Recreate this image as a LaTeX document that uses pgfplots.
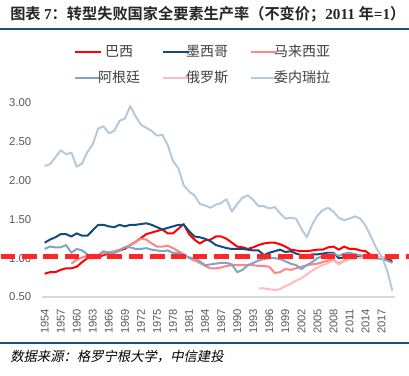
\documentclass[border=0pt]{standalone}
\usepackage{fontspec}
\setmainfont{Liberation Sans}
\newfontfamily\cjk{Noto Sans CJK SC}[BoldFont={Noto Sans CJK SC Bold}]
\newfontfamily\cjki{Noto Sans CJK SC}[FakeSlant=0.2]
\newfontfamily\tnr{Liberation Serif}
\usepackage{pgfplots}
\usepackage{pgfplotstable}
\pgfplotsset{compat=1.18}
\definecolor{cbr}{HTML}{FF0000}
\definecolor{cmx}{HTML}{124C7C}
\definecolor{cmy}{HTML}{FF8585}
\definecolor{car}{HTML}{82A3C2}
\definecolor{cru}{HTML}{FFBCBC}
\definecolor{cve}{HTML}{B3CADD}
\definecolor{rule}{HTML}{1F4E79}
\definecolor{tick}{HTML}{595959}
\pgfplotstableread{
year br mx my ar ru ve
1954 0.80 1.20 nan 1.12 nan 2.19
1955 0.82 1.24 nan 1.15 nan 2.21
1956 0.82 1.27 nan 1.14 nan 2.30
1957 0.85 1.31 nan 1.14 nan 2.39
1958 0.87 1.31 nan 1.17 nan 2.34
1959 0.87 1.28 0.93 1.07 nan 2.36
1960 0.89 1.32 0.98 1.12 nan 2.18
1961 0.95 1.29 1.01 1.10 nan 2.22
1962 1.00 1.29 1.03 1.05 nan 2.37
1963 1.00 1.36 1.03 1.01 nan 2.47
1964 1.01 1.43 1.04 1.04 nan 2.67
1965 1.04 1.43 1.06 1.09 nan 2.70
1966 1.06 1.41 1.08 1.07 nan 2.61
1967 1.07 1.40 1.09 1.07 nan 2.64
1968 1.10 1.43 1.11 1.10 nan 2.77
1969 1.12 1.41 1.14 1.14 nan 2.80
1970 1.17 1.43 1.17 1.14 nan 2.96
1971 1.21 1.43 1.21 1.12 nan 2.83
1972 1.26 1.44 1.25 1.12 nan 2.72
1973 1.31 1.45 1.24 1.13 nan 2.68
1974 1.33 1.43 1.19 1.11 nan 2.64
1975 1.35 1.40 1.15 1.10 nan 2.58
1976 1.37 1.37 1.15 1.09 nan 2.59
1977 1.32 1.39 1.16 1.10 nan 2.46
1978 1.32 1.41 1.13 1.07 nan 2.25
1979 1.38 1.43 1.09 1.07 nan 2.16
1980 1.44 1.43 1.05 1.04 nan 1.94
1981 1.31 1.35 1.00 1.01 nan 1.86
1982 1.24 1.28 0.97 1.00 nan 1.81
1983 1.19 1.27 0.94 0.96 nan 1.70
1984 1.23 1.25 0.90 0.91 nan 1.68
1985 1.24 1.22 0.87 0.92 nan 1.65
1986 1.28 1.17 0.87 0.93 nan 1.69
1987 1.28 1.15 0.88 0.94 nan 1.71
1988 1.25 1.13 0.90 0.94 nan 1.76
1989 1.20 1.12 0.91 0.92 nan 1.60
1990 1.15 1.12 0.91 0.82 nan 1.70
1991 1.14 1.12 0.91 0.85 nan 1.78
1992 1.12 1.11 0.91 0.91 nan 1.81
1993 1.14 1.10 0.91 0.94 nan 1.75
1994 1.17 1.10 0.90 0.97 0.61 1.67
1995 1.19 1.04 0.90 0.99 0.61 1.67
1996 1.20 1.07 0.89 1.00 0.60 1.64
1997 1.20 1.09 0.81 1.00 0.59 1.66
1998 1.18 1.11 0.82 0.99 0.60 1.58
1999 1.15 1.08 0.86 0.96 0.64 1.51
2000 1.11 1.09 0.85 0.93 0.67 1.52
2001 1.10 1.06 0.87 0.91 0.71 1.51
2002 1.09 1.04 0.89 0.86 0.74 1.38
2003 1.09 1.03 0.91 0.91 0.79 1.27
2004 1.10 1.05 0.92 0.95 0.84 1.43
2005 1.11 1.05 0.93 1.00 0.88 1.55
2006 1.11 1.06 0.95 1.03 0.91 1.62
2007 1.14 1.07 0.97 1.05 0.94 1.65
2008 1.15 1.07 0.98 1.06 0.97 1.60
2009 1.11 1.00 0.93 1.03 0.92 1.52
2010 1.15 1.01 0.97 1.06 0.96 1.49
2011 1.12 1.02 1.00 1.07 0.99 1.51
2012 1.12 1.02 1.00 1.05 1.00 1.54
2013 1.10 1.01 1.00 1.04 1.00 1.51
2014 1.09 1.01 1.01 1.02 1.01 1.42
2015 1.04 1.00 1.01 1.01 1.01 1.28
2016 1.01 1.00 1.01 1.00 1.01 1.13
2017 0.99 1.00 1.01 0.99 1.01 1.02
2018 0.98 0.98 1.01 0.97 1.01 0.85
2019 0.97 0.95 1.01 0.94 1.02 0.58
}\datatab
\pgfplotstableread{
x y
1945.8 1.025
2022.2 1.025
}\reftab
\begin{document}
\begin{tikzpicture}
\useasboundingbox (0,0) rectangle (306.75pt,281.25pt);
\node[anchor=west, inner sep=0pt, text=black!85] at (7.5pt,270.75pt)
  {\fontsize{11.4}{13}\selectfont\bfseries{\cjk 图表 }{\tnr 7}{\cjk ：转型失败国家全要素生产率（不变价；}{\tnr 2011 }{\cjk 年}{\tnr =1}{\cjk ）}};
\draw[rule, line width=2pt] (0,259.5pt) -- (306.75pt,259.5pt);
\draw[rule, line width=1.7pt] (0,24pt) -- (306.75pt,24pt);
\node[anchor=west, inner sep=0pt] at (7.5pt,13.5pt)
  {\fontsize{10}{12}\selectfont\cjki 数据来源：格罗宁根大学，中信建投};
\begin{axis}[
  at={(31.5pt,58.5pt)}, anchor=south west,
  scale only axis, width=264.75pt, height=145.5pt,
  xmin=1953.5, xmax=2019.5, ymin=0.5, ymax=3.0,
  clip=false,
  axis x line*=bottom, axis y line*=left,
  x axis line style={draw=black!15, line width=0.8pt},
  y axis line style={draw=none},
  xtick={1954,1957,...,2017},
  ytick={0.5,1.0,...,3.0},
  major tick length=0pt,
  tick style={draw=none},
  /pgf/number format/assume math mode=true,
  xticklabel style={font=\fontsize{8.4}{10}\selectfont, text=tick, /pgf/number format/1000 sep={}, yshift=-5.5pt, rotate=90, anchor=east},
  yticklabel style={font=\fontsize{8.5}{10}\selectfont, text=tick, /pgf/number format/.cd, fixed, fixed zerofill, precision=2, /tikz/.cd, xshift=-4.5pt},
  unbounded coords=jump,
  every axis plot/.append style={line width=1.5pt, line join=round},
  legend style={at={(0.0907,1.299)}, anchor=north west, draw=none, fill=none,
    inner sep=0pt, outer sep=0pt,
    font=\fontsize{10.5}{12}\selectfont\cjk, text=black!75,
    legend columns=3, row sep=9pt,
    /tikz/every even column/.append style={column sep=16.5pt},
    /tikz/every odd column/.append style={column sep=-3pt},
    nodes={inner sep=0pt}},
  legend image code/.code={\draw[#1] (0pt,0pt) -- (19.5pt,0pt);},
]
\addplot[cbr] table[x=year,y=br] {\datatab};
\addlegendentry{巴西}
\addplot[cmx] table[x=year,y=mx] {\datatab};
\addlegendentry{墨西哥}
\addplot[cmy] table[x=year,y=my] {\datatab};
\addlegendentry{马来西亚}
\addplot[car] table[x=year,y=ar] {\datatab};
\addlegendentry{阿根廷}
\addplot[cru] table[x=year,y=ru] {\datatab};
\addlegendentry{俄罗斯}
\addplot[cve] table[x=year,y=ve] {\datatab};
\addlegendentry{委内瑞拉}
\addplot[forget plot, color=red!85!white, line width=3.5pt, dash pattern=on 11pt off 5pt] table[x=x,y=y] {\reftab};
\end{axis}
\end{tikzpicture}
\end{document}
